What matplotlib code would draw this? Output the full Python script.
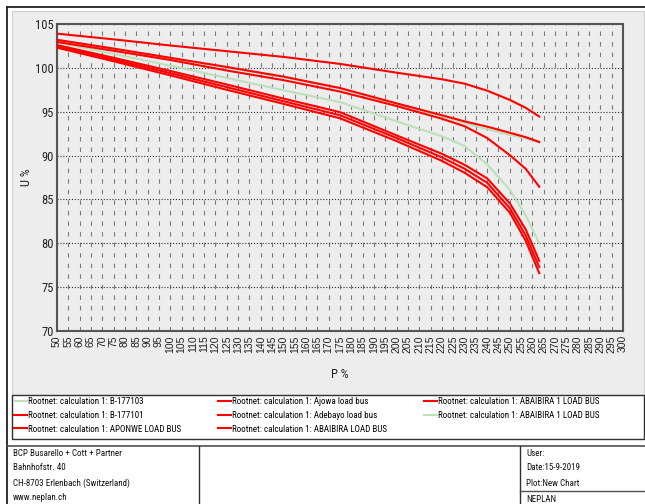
import matplotlib
matplotlib.use("Agg")
import matplotlib.pyplot as plt
import matplotlib.font_manager as fm
from matplotlib.lines import Line2D
from matplotlib.patches import Rectangle

# ---------------- data ----------------
p_percent = [50, 75, 100, 125, 150, 175, 200, 220, 230, 240, 250, 257, 263]

u_b177103 = [102.9, 101.6, 100.25, 98.85, 97.45, 96.1, 93.9, 92.2, 91.1, 89.0, 86.1, 83.2, 80.0]
u_b177101 = [102.6, 101.15, 99.65, 98.1, 96.5, 94.95, 92.3, 90.2, 88.95, 87.4, 84.55, 81.6, 78.0]
u_aponwe = [102.45, 100.95, 99.4, 97.8, 96.2, 94.6, 92.0, 89.8, 88.5, 86.9, 84.0, 80.9, 77.3]
u_ajowa = [103.9, 103.25, 102.55, 101.9, 101.25, 100.45, 99.45, 98.7, 98.2, 97.4, 96.35, 95.45, 94.45]
u_adebayo = [102.95, 101.95, 100.9, 99.7, 98.6, 97.3, 95.65, 94.2, 93.35, 92.0, 90.05, 88.5, 86.45]
u_abaibira = [102.3, 100.75, 99.15, 97.5, 95.9, 94.25, 91.65, 89.4, 88.05, 86.4, 83.5, 80.3, 76.6]
u_abaibira1_red = [103.2, 102.2, 101.15, 100.1, 99.0, 97.7, 95.95, 94.6, 93.9, 93.3, 92.6, 92.1, 91.55]
u_abaibira1_green = [103.15, 102.15, 101.1, 100.05, 98.95, 97.65, 95.9, 94.5, 93.7, 93.0, 92.35, 91.95, 91.5]

series_labels = [
    "Rootnet: calculation 1: B-177103",
    "Rootnet: calculation 1: B-177101",
    "Rootnet: calculation 1: APONWE LOAD BUS",
    "Rootnet: calculation 1: Ajowa load bus",
    "Rootnet: calculation 1: Adebayo load bus",
    "Rootnet: calculation 1: ABAIBIRA LOAD BUS",
    "Rootnet: calculation 1: ABAIBIRA 1 LOAD BUS",
    "Rootnet: calculation 1: ABAIBIRA 1 LOAD BUS",
]
series_values = [u_b177103, u_b177101, u_aponwe, u_ajowa, u_adebayo,
                 u_abaibira, u_abaibira1_red, u_abaibira1_green]
GREEN = "#bcdfbc"
RED = "#ff0000"
series_colors = [GREEN, RED, RED, RED, RED, RED, RED, GREEN]

x_ticks = list(range(50, 301, 5))
y_ticks = list(range(70, 106, 5))

footer_left = ["BCP Busarello + Cott + Partner", "Bahnhofstr. 40",
               "CH-8703 Erlenbach (Switzerland)", "www.neplan.ch"]
footer_right = ["User:", "Date:15-9-2019", "Plot:New Chart", "NEPLAN"]

# ---------------- fonts ----------------
avail = {f.name for f in fm.fontManager.ttflist}
narrow_family = None
for cand in ["Liberation Sans Narrow", "Arial Narrow", "DejaVu Sans Condensed", "Roboto Condensed"]:
    if cand in avail:
        narrow_family = cand
        break
if narrow_family is None:
    NARROW = dict(family="Liberation Sans")
else:
    NARROW = dict(family=narrow_family)
REG = dict(family="Liberation Sans")

# ---------------- figure ----------------
W, H = 645, 504
fig = plt.figure(figsize=(W / 100, H / 100), dpi=100)
fig.patch.set_facecolor("white")

def fx(x):
    return x / W

def fy(y):
    return 1 - y / H

# grey panel
fig.add_artist(Rectangle((fx(12), fy(395)), fx(644) - fx(12), fy(11) - fy(395),
                         transform=fig.transFigure, facecolor="#ededed",
                         edgecolor="#cfcfcf", lw=0.8, zorder=0))
# legend box
fig.add_artist(Rectangle((fx(12), fy(439)), fx(644) - fx(12), fy(395) - fy(439),
                         transform=fig.transFigure, facecolor="white",
                         edgecolor="#303030", lw=1.0, zorder=1))
# outer frame lines
fig.add_artist(Line2D([fx(6.5), fx(6.5)], [fy(7), fy(504)], transform=fig.transFigure,
                      color="#222222", lw=1.3))
fig.add_artist(Line2D([fx(6.5), fx(645)], [fy(7), fy(7)], transform=fig.transFigure,
                      color="#222222", lw=1.3))
# footer lines
fig.add_artist(Line2D([fx(6.5), fx(645)], [fy(446), fy(446)], transform=fig.transFigure,
                      color="#505050", lw=1.2))
fig.add_artist(Line2D([fx(199), fx(199)], [fy(446), fy(504)], transform=fig.transFigure,
                      color="#303030", lw=1.0))
fig.add_artist(Line2D([fx(520), fx(520)], [fy(446), fy(504)], transform=fig.transFigure,
                      color="#303030", lw=1.0))
fig.add_artist(Line2D([fx(520), fx(645)], [fy(490.5), fy(490.5)], transform=fig.transFigure,
                      color="#505050", lw=1.0))

# ---------------- axes ----------------
ax = fig.add_axes([fx(57), fy(331), fx(623) - fx(57), fy(24) - fy(331)])
ax.set_facecolor("#ededed")
ax.set_xlim(50, 300)
ax.set_ylim(70, 105)
ax.set_xticks(x_ticks)
ax.set_yticks(y_ticks)
ax.set_xticklabels([str(v) for v in x_ticks], rotation=90, fontsize=7.5, color="#222222", **REG)
ax.set_yticklabels([str(v) for v in y_ticks], fontsize=9, color="#222222", **NARROW)
ax.tick_params(axis="both", length=0)
ax.tick_params(axis="x", pad=3)
ax.tick_params(axis="y", pad=2)
for lab in ax.get_xticklabels():
    lab.set_verticalalignment("top")

ax.xaxis.grid(True, color="#7a7a7a", lw=0.8, linestyle=(0, (4, 5.5)))
ax.yaxis.grid(True, color="#303030", lw=0.8, linestyle=(0, (1, 1.6)))
ax.set_axisbelow(True)
for s in ax.spines.values():
    s.set_color("#555555")
    s.set_linewidth(1.5)

ax.set_ylabel("U %", fontsize=9, color="#222222", **NARROW)
ax.yaxis.set_label_coords(-(57 - 33) / 566, 0.5)
ax.set_xlabel("P %", fontsize=9, color="#222222", **NARROW)
ax.xaxis.set_label_coords(0.5, -(368 - 331) / 307)
ax.xaxis.label.set_verticalalignment("top")

lines = []
for i, (lab, vals, col) in enumerate(zip(series_labels, series_values, series_colors)):
    z = 2 if col == GREEN else 3
    ln, = ax.plot(p_percent, vals, color=col, lw=1.5, label=lab, zorder=z,
                  solid_joinstyle="round")
    lines.append(ln)

# ---------------- legend (3 columns) ----------------
col_x = [14, 218, 424]
col_idx = [[0, 1, 2], [3, 4, 5], [6, 7]]
for cx, idxs in zip(col_x, col_idx):
    leg = fig.legend([lines[i] for i in idxs], [series_labels[i] for i in idxs],
                     loc="upper left", bbox_to_anchor=(fx(cx), fy(397.5)),
                     frameon=False, handlelength=1.45, handletextpad=0.15,
                     labelspacing=0.5, borderpad=0, borderaxespad=0,
                     prop=fm.FontProperties(size=6.5, **NARROW))
    leg.set_zorder(5)

# ---------------- footer text ----------------
for i, t in enumerate(footer_left):
    fig.text(fx(13), fy(453 + 15 * i), t, fontsize=6.5, va="center", ha="left",
             color="#111111", **NARROW)
for i, t in enumerate(footer_right):
    fig.text(fx(526), fy(453 + 15 * i + (1 if i == 3 else 0)), t, fontsize=6.5,
             va="center", ha="left", color="#111111", **NARROW)

fig.savefig("out.png", dpi=100, facecolor="white")
